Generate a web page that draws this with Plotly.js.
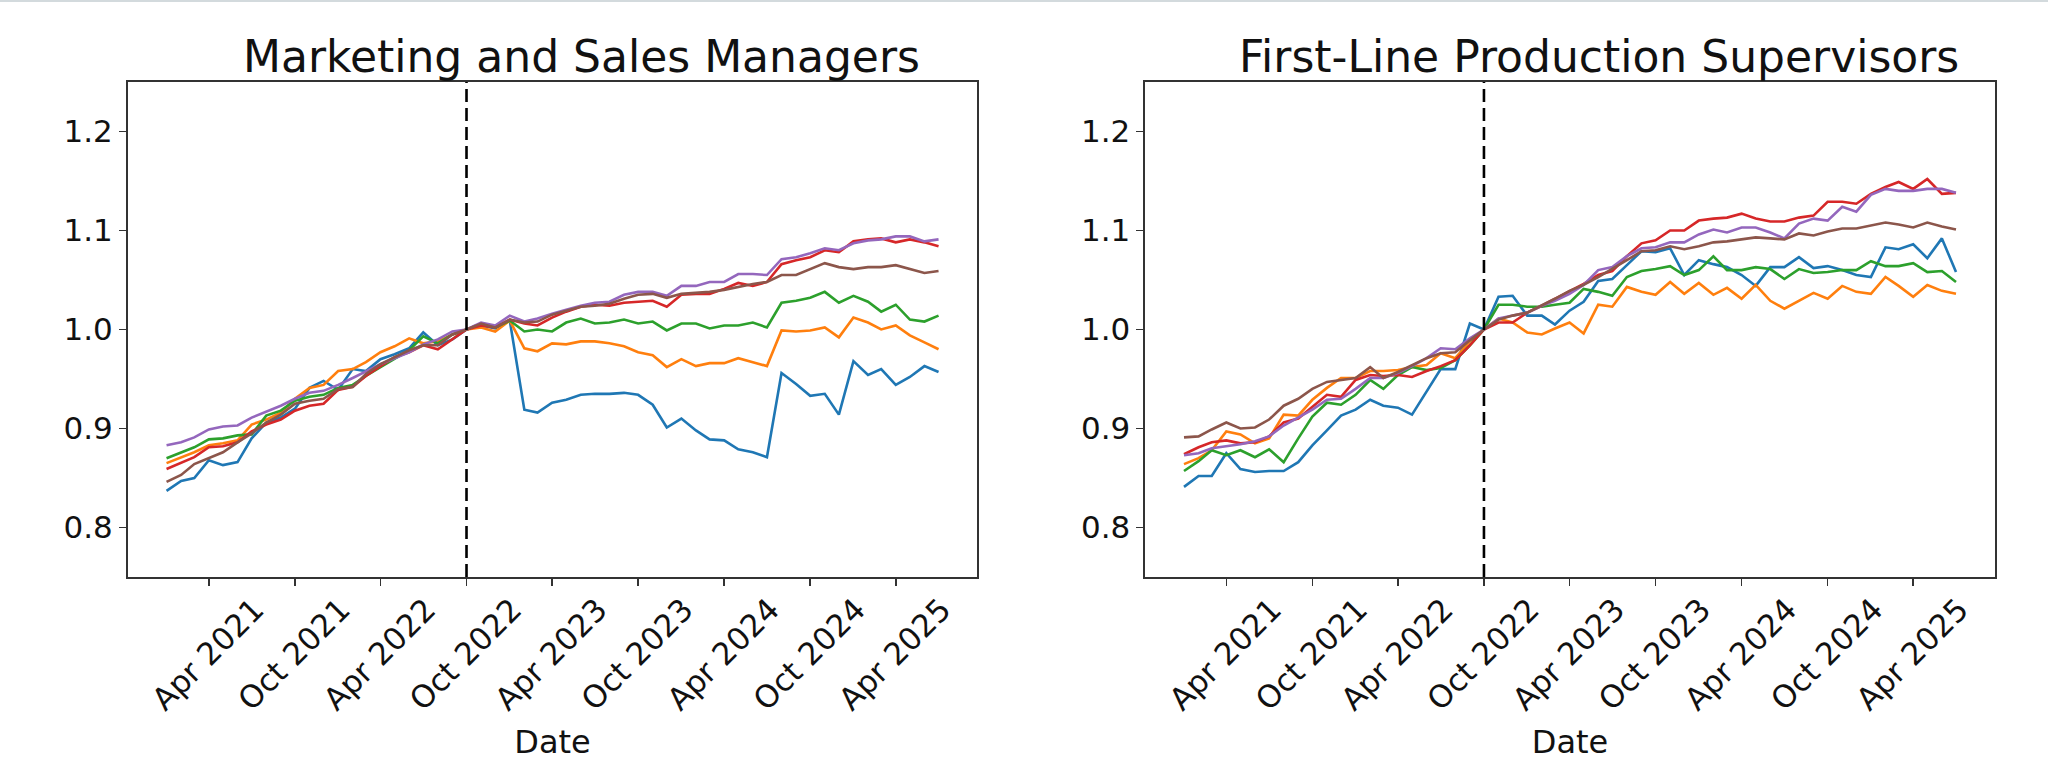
<!DOCTYPE html>
<html>
<head>
<meta charset="utf-8">
<script src="https://cdn.plot.ly/plotly-3.0.1.min.js"></script>
<style>
  html, body { margin: 0; padding: 0; background: #ffffff; }
  #chart { width: 2048px; height: 769px; }
</style>
</head>
<body>
<div id="chart"></div>
<script>
// ---------- Data ----------
const dates = [
  "2021-01-01","2021-02-01","2021-03-01","2021-04-01","2021-05-01","2021-06-01",
  "2021-07-01","2021-08-01","2021-09-01","2021-10-01","2021-11-01","2021-12-01",
  "2022-01-01","2022-02-01","2022-03-01","2022-04-01","2022-05-01","2022-06-01",
  "2022-07-01","2022-08-01","2022-09-01","2022-10-01","2022-11-01","2022-12-01",
  "2023-01-01","2023-02-01","2023-03-01","2023-04-01","2023-05-01","2023-06-01",
  "2023-07-01","2023-08-01","2023-09-01","2023-10-01","2023-11-01","2023-12-01",
  "2024-01-01","2024-02-01","2024-03-01","2024-04-01","2024-05-01","2024-06-01",
  "2024-07-01","2024-08-01","2024-09-01","2024-10-01","2024-11-01","2024-12-01",
  "2025-01-01","2025-02-01","2025-03-01","2025-04-01","2025-05-01","2025-06-01",
  "2025-07-01"
];

const panelTitles = ["Marketing and Sales Managers", "First-Line Production Supervisors"];
const eventDate = "2022-10-01";

const tickDates = ["2021-04-01","2021-10-01","2022-04-01","2022-10-01","2023-04-01",
                   "2023-10-01","2024-04-01","2024-10-01","2025-04-01"];
const tickLabels = ["Apr 2021","Oct 2021","Apr 2022","Oct 2022","Apr 2023",
                    "Oct 2023","Apr 2024","Oct 2024","Apr 2025"];
const yTickVals = [0.8, 0.9, 1.0, 1.1, 1.2];
const yTickText = ["0.8", "0.9", "1.0", "1.1", "1.2"];

// Marketing and Sales Managers
const mkt_blue = [0.837,0.847,0.850,0.868,0.863,0.866,0.890,0.906,0.911,0.920,0.941,0.948,0.939,0.960,0.958,0.970,0.975,0.981,0.997,0.984,0.990,
  1.000,1.004,1.001,1.009,0.919,0.916,0.926,0.929,0.934,0.935,0.935,0.936,0.934,0.924,0.901,0.910,0.898,0.889,0.888,0.879,0.876,0.871,0.956,0.945,0.933,0.935,0.914,0.968,0.954,0.960,0.944,0.952,0.963,0.957];
const mkt_orange = [0.865,0.871,0.876,0.883,0.885,0.888,0.904,0.909,0.916,0.930,0.941,0.944,0.958,0.960,0.967,0.977,0.983,0.991,0.986,0.988,0.995,
  1.000,1.002,0.998,1.009,0.981,0.978,0.986,0.985,0.988,0.988,0.986,0.983,0.977,0.974,0.962,0.970,0.963,0.966,0.966,0.971,0.967,0.963,0.999,0.998,0.999,1.002,0.992,1.012,1.007,1.000,1.004,0.994,0.987,0.980];
const mkt_green = [0.870,0.876,0.881,0.889,0.890,0.893,0.894,0.913,0.918,0.928,0.932,0.934,0.941,0.944,0.953,0.962,0.970,0.979,0.993,0.986,0.995,
  1.000,1.006,1.002,1.009,0.998,1.000,0.998,1.007,1.011,1.006,1.007,1.010,1.006,1.008,0.999,1.006,1.006,1.001,1.004,1.004,1.007,1.002,1.027,1.029,1.032,1.038,1.027,1.034,1.028,1.018,1.025,1.010,1.008,1.014];
const mkt_red = [0.859,0.865,0.871,0.881,0.882,0.886,0.897,0.904,0.909,0.918,0.923,0.925,0.939,0.942,0.953,0.963,0.972,0.977,0.984,0.980,0.990,
  1.000,1.004,1.002,1.010,1.006,1.004,1.012,1.018,1.023,1.025,1.024,1.027,1.028,1.029,1.023,1.035,1.036,1.036,1.041,1.047,1.044,1.048,1.066,1.070,1.073,1.080,1.078,1.089,1.091,1.092,1.088,1.091,1.088,1.084];
const mkt_purple = [0.883,0.886,0.891,0.899,0.902,0.903,0.911,0.917,0.923,0.930,0.936,0.938,0.944,0.951,0.958,0.965,0.971,0.977,0.985,0.990,0.998,
  1.000,1.007,1.004,1.014,1.008,1.011,1.016,1.020,1.024,1.027,1.028,1.035,1.038,1.038,1.034,1.044,1.044,1.048,1.048,1.056,1.056,1.055,1.071,1.073,1.077,1.082,1.080,1.087,1.090,1.091,1.094,1.094,1.089,1.091];
const mkt_brown = [0.846,0.853,0.864,0.870,0.876,0.886,0.895,0.906,0.914,0.925,0.928,0.930,0.940,0.942,0.955,0.965,0.972,0.979,0.984,0.984,0.995,
  1.000,1.006,1.002,1.010,1.007,1.008,1.015,1.019,1.023,1.024,1.026,1.031,1.035,1.036,1.032,1.036,1.037,1.038,1.040,1.043,1.046,1.048,1.055,1.055,1.061,1.067,1.063,1.061,1.063,1.063,1.065,1.061,1.057,1.059];

// First-Line Production Supervisors
const prod_blue = [0.841,0.852,0.852,0.875,0.859,0.856,0.857,0.857,0.866,0.883,0.898,0.913,0.919,0.929,0.923,0.921,0.914,0.937,0.960,0.960,1.006,
  1.000,1.033,1.034,1.014,1.014,1.005,1.019,1.028,1.049,1.051,1.065,1.079,1.078,1.082,1.055,1.070,1.066,1.063,1.055,1.044,1.063,1.063,1.073,1.062,1.064,1.060,1.055,1.053,1.083,1.081,1.086,1.072,1.092,1.058];
const prod_orange = [0.864,0.870,0.878,0.897,0.894,0.885,0.890,0.914,0.913,0.929,0.941,0.951,0.951,0.958,0.958,0.959,0.962,0.964,0.976,0.971,0.988,
  1.000,1.011,1.007,0.997,0.995,1.001,1.007,0.996,1.025,1.023,1.043,1.038,1.035,1.048,1.036,1.047,1.035,1.042,1.031,1.045,1.029,1.021,1.029,1.037,1.031,1.044,1.038,1.036,1.053,1.044,1.033,1.045,1.039,1.036];
const prod_green = [0.857,0.867,0.878,0.873,0.878,0.871,0.879,0.866,0.890,0.912,0.926,0.924,0.934,0.949,0.940,0.954,0.962,0.959,0.961,0.969,0.984,
  1.000,1.025,1.025,1.023,1.023,1.025,1.027,1.041,1.038,1.034,1.053,1.059,1.061,1.064,1.055,1.060,1.074,1.060,1.060,1.063,1.061,1.051,1.061,1.057,1.058,1.060,1.060,1.069,1.064,1.064,1.067,1.058,1.059,1.048];
const prod_red = [0.874,0.881,0.886,0.888,0.885,0.886,0.892,0.906,0.910,0.922,0.934,0.932,0.949,0.954,0.953,0.954,0.952,0.958,0.963,0.969,0.984,
  1.000,1.007,1.007,1.017,1.024,1.031,1.038,1.046,1.055,1.059,1.074,1.087,1.090,1.100,1.100,1.110,1.112,1.113,1.117,1.112,1.109,1.109,1.113,1.115,1.129,1.129,1.127,1.137,1.144,1.149,1.142,1.152,1.137,1.138];
const prod_purple = [0.873,0.875,0.880,0.882,0.884,0.887,0.892,0.903,0.911,0.919,0.929,0.930,0.940,0.951,0.951,0.956,0.963,0.971,0.981,0.980,0.991,
  1.000,1.011,1.014,1.017,1.024,1.029,1.036,1.045,1.060,1.063,1.074,1.082,1.083,1.088,1.088,1.096,1.101,1.098,1.103,1.103,1.098,1.092,1.107,1.112,1.110,1.124,1.119,1.136,1.142,1.140,1.140,1.142,1.142,1.138];
const prod_brown = [0.891,0.892,0.899,0.906,0.900,0.901,0.909,0.923,0.930,0.940,0.947,0.949,0.951,0.962,0.951,0.957,0.964,0.971,0.976,0.977,0.989,
  1.000,1.010,1.014,1.017,1.024,1.031,1.039,1.045,1.053,1.061,1.070,1.079,1.080,1.084,1.081,1.084,1.088,1.089,1.091,1.093,1.092,1.091,1.097,1.095,1.099,1.102,1.102,1.105,1.108,1.106,1.103,1.108,1.104,1.101];

const colors = ["#1f77b4","#ff7f0e","#2ca02c","#d62728","#9467bd","#8c564b"];
const mktSeries = [mkt_blue, mkt_orange, mkt_green, mkt_red, mkt_purple, mkt_brown];
const prodSeries = [prod_blue, prod_orange, prod_green, prod_red, prod_purple, prod_brown];

// ---------- Traces ----------
const traces = [];
mktSeries.forEach((ys, i) => traces.push({
  x: dates, y: ys, type: "scatter", mode: "lines", xaxis: "x", yaxis: "y",
  line: { color: colors[i], width: 2.6 }, showlegend: false, hoverinfo: "skip"
}));
prodSeries.forEach((ys, i) => traces.push({
  x: dates, y: ys, type: "scatter", mode: "lines", xaxis: "x2", yaxis: "y2",
  line: { color: colors[i], width: 2.6 }, showlegend: false, hoverinfo: "skip"
}));

// ---------- Layout ----------
const FONT = "DejaVu Sans, Verdana, sans-serif";
const xRange = ["2020-10-11", "2025-09-21"];

function xAxis(domain, anchor) {
  return {
    domain: domain, anchor: anchor, type: "date", range: xRange,
    tickmode: "array", tickvals: tickDates, ticktext: tickLabels,
    tickangle: -45, ticklabelshift: 46, ticklabelstandoff: -7,
    ticks: "outside", ticklen: 7, tickwidth: 1.6, tickcolor: "#333333",
    showline: true, mirror: true, linecolor: "#333333", linewidth: 2,
    showgrid: false, zeroline: false, automargin: false,
    tickfont: { family: FONT, size: 31, color: "#111111" },
    title: { text: "Date", font: { family: FONT, size: 32, color: "#111111" }, standoff: 14 }
  };
}
function yAxis(anchor) {
  return {
    domain: [0.2497, 0.8934], anchor: anchor, range: [0.75, 1.25],
    tickmode: "array", tickvals: yTickVals, ticktext: yTickText,
    ticks: "outside", ticklen: 7, tickwidth: 1.6, tickcolor: "#333333",
    showline: true, mirror: true, linecolor: "#333333", linewidth: 2,
    showgrid: false, zeroline: false, automargin: false,
    tickfont: { family: FONT, size: 31, color: "#111111" }
  };
}

const layout = {
  width: 2048, height: 769,
  margin: { l: 0, r: 0, t: 0, b: 0, pad: 0 },
  paper_bgcolor: "#ffffff", plot_bgcolor: "#ffffff",
  showlegend: false,
  xaxis: xAxis([0.0625, 0.4771], "y"),
  yaxis: yAxis("x"),
  xaxis2: xAxis([0.5593, 0.9739], "y2"),
  yaxis2: yAxis("x2"),
  shapes: [
    { type: "line", xref: "x", yref: "y domain", x0: eventDate, x1: eventDate, y0: 0, y1: 1,
      line: { color: "#000000", width: 2.6, dash: "13px,6px" }, layer: "above" },
    { type: "line", xref: "x2", yref: "y2 domain", x0: eventDate, x1: eventDate, y0: 0, y1: 1,
      line: { color: "#000000", width: 2.6, dash: "13px,6px" }, layer: "above" },
    { type: "rect", xref: "paper", yref: "paper", x0: 0, x1: 1, y0: 0.9975, y1: 1,
      line: { width: 0 }, fillcolor: "#d3dadd", layer: "above" }
  ],
  annotations: [
    { text: panelTitles[0], xref: "x domain", yref: "paper", x: 0.534, y: 0.926,
      xanchor: "center", yanchor: "middle", showarrow: false,
      font: { family: FONT, size: 44, color: "#111111" } },
    { text: panelTitles[1], xref: "x2 domain", yref: "paper", x: 0.534, y: 0.926,
      xanchor: "center", yanchor: "middle", showarrow: false,
      font: { family: FONT, size: 44, color: "#111111" } }
  ]
};

Plotly.newPlot("chart", traces, layout, { staticPlot: true, displayModeBar: false });
</script>
</body>
</html>
